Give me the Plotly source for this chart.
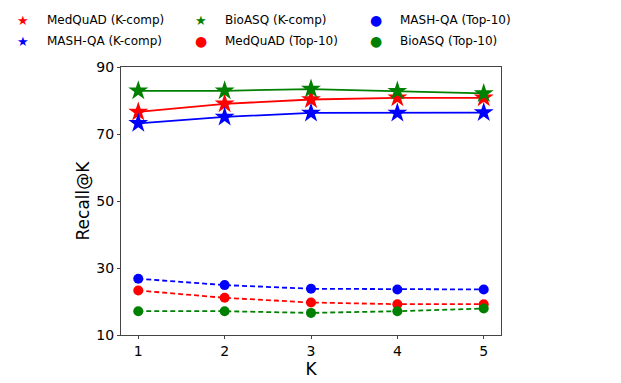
import plotly.graph_objects as go

K = [1, 2, 3, 4, 5]
medquad_kcomp = [76.6, 79.0, 80.3, 80.8, 80.8]
mashqa_kcomp = [73.2, 75.1, 76.3, 76.3, 76.4]
bioasq_kcomp = [82.9, 82.9, 83.4, 82.8, 82.1]
mashqa_top10 = [26.8, 24.9, 23.8, 23.6, 23.6]
medquad_top10 = [23.3, 21.1, 19.7, 19.2, 19.2]
bioasq_top10 = [17.1, 17.1, 16.6, 17.1, 17.9]
y_ticks = [10, 30, 50, 70, 90]

FONT = "DejaVu Sans"
W, H = 621, 383
L, R, T, B = 121, 501, 67, 337

fig = go.Figure()

series = [
    ("MedQuAD (K-comp)", medquad_kcomp, "red", "star", "solid"),
    ("MASH-QA (K-comp)", mashqa_kcomp, "blue", "star", "solid"),
    ("BioASQ (K-comp)", bioasq_kcomp, "green", "star", "solid"),
    ("MedQuAD (Top-10)", medquad_top10, "red", "circle", "5px,3px"),
    ("MASH-QA (Top-10)", mashqa_top10, "blue", "circle", "5px,3px"),
    ("BioASQ (Top-10)", bioasq_top10, "green", "circle", "5px,3px"),
]

for name, vals, col, sym, dash in series:
    fig.add_trace(go.Scatter(
        x=K, y=vals, mode="lines+markers", name=name, showlegend=False,
        line=dict(color=col, width=1.8, dash=dash),
        marker=dict(symbol=sym, color=col, size=15 if sym == "star" else 10,
                    line=dict(width=0)),
    ))

# manual legend: 3 columns x 2 rows, column-major like matplotlib
col_marker_x = [23, 201, 376]
col_text_x = [45, 223, 398]
row_y = [20, 41]


def px_to_paper(px, py):
    return (px - L) / (R - L), (B - py) / (B - T)


for i, (name, vals, col, sym, dash) in enumerate(series):
    c, r = divmod(i, 2)
    tx, ty = px_to_paper(col_text_x[c], row_y[r])
    fig.add_annotation(
        text=name, xref="paper", yref="paper", x=tx, y=ty,
        xanchor="left", yanchor="middle", showarrow=False,
        font=dict(family=FONT, size=12, color="black"),
    )
    mx, my = px_to_paper(col_marker_x[c], row_y[r])
    fig.add_annotation(
        text="★" if sym == "star" else "●", xref="paper", yref="paper",
        x=mx, y=my, xanchor="center", yanchor="middle", showarrow=False,
        font=dict(family=FONT, size=13 if sym == "star" else 14, color=col),
    )

fig.update_layout(
    width=W, height=H,
    margin=dict(l=L, r=W - R, t=T, b=H - B),
    paper_bgcolor="white", plot_bgcolor="white",
    font=dict(family=FONT, size=14, color="black"),
    showlegend=False,
    xaxis=dict(range=[0.8, 5.2], tickvals=K, ticks="outside", ticklen=3,
               showline=True, linecolor="#444", mirror=True, showgrid=False,
               zeroline=False, title=dict(text="K", standoff=0),
               tickfont=dict(size=14)),
    yaxis=dict(range=[10, 90], tickvals=y_ticks, ticks="outside", ticklen=3,
               showline=True, linecolor="#444", mirror=True, showgrid=False,
               zeroline=False, title=dict(text="Recall@K", standoff=2),
               tickfont=dict(size=14)),
)

fig.write_html("out.html", config={"displayModeBar": False},
               post_script="document.body.style.margin='0';")
